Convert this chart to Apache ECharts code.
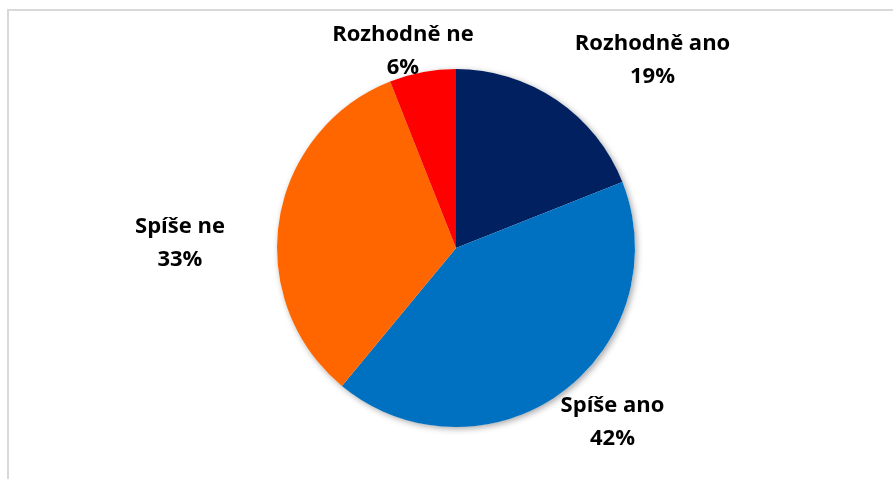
<!DOCTYPE html>
<html>
<head>
<meta charset="utf-8">
<script src="https://cdn.jsdelivr.net/npm/echarts@6/dist/echarts.min.js"></script>
<style>
html,body{margin:0;padding:0;background:#fff;}
#chart{width:893px;height:479px;}
</style>
</head>
<body>
<div id="chart"></div>
<script>
const categories = ['Rozhodně ano', 'Spíše ano', 'Spíše ne', 'Rozhodně ne'];
const values = [19, 42, 33, 6];
const colors = ['#002060', '#0070C0', '#FF6600', '#FF0000'];

// label placement tuning (label line hidden)
const lineLen = [48.2, 36.7, -150.3, 21.6];
const lineLen2 = [-16.2, -55.3, 162.7, -69.5];

const chart = echarts.init(document.getElementById('chart'), null, {renderer: 'canvas'});

const txt = {
  fontFamily: '"Open Sans", sans-serif',
  fontWeight: 'bold',
  fontSize: 22,
  color: '#000',
  width: 170,
  align: 'center',
  lineHeight: 33
};

const data = categories.map((c, i) => ({
  name: c,
  value: values[i],
  itemStyle: { color: colors[i] },
  labelLine: { show: false, length: lineLen[i], length2: lineLen2[i] }
}));

chart.setOption({
  animation: false,
  backgroundColor: '#ffffff',
  graphic: [{
    type: 'rect',
    shape: { x: 8, y: 10, width: 1000, height: 1000 },
    style: { fill: 'none', stroke: '#d9d9d9', lineWidth: 2 },
    silent: true,
    z: -10
  }],
  series: [
    {
      type: 'pie',
      silent: true,
      center: [456, 248],
      radius: 179,
      label: { show: false },
      labelLine: { show: false },
      itemStyle: {
        color: '#ffffff',
        shadowBlur: 6,
        shadowOffsetX: 2,
        shadowOffsetY: 2,
        shadowColor: 'rgba(0,0,0,0.35)'
      },
      data: [{ value: 1, name: '' }],
      z: 1
    },
    {
      type: 'pie',
      center: [456, 248],
      radius: 179,
      startAngle: 90,
      clockwise: true,
      avoidLabelOverlap: false,
      z: 2,
      itemStyle: { borderWidth: 0 },
      label: {
        show: true,
        position: 'outside',
        distanceToLabelLine: 0,
        formatter: p => '{a|' + p.name + '}\n{a|' + Math.round(p.percent) + '%}',
        rich: { a: txt }
      },
      labelLine: { show: false },
      emphasis: { disabled: true },
      data: data
    }
  ]
});
</script>
</body>
</html>
